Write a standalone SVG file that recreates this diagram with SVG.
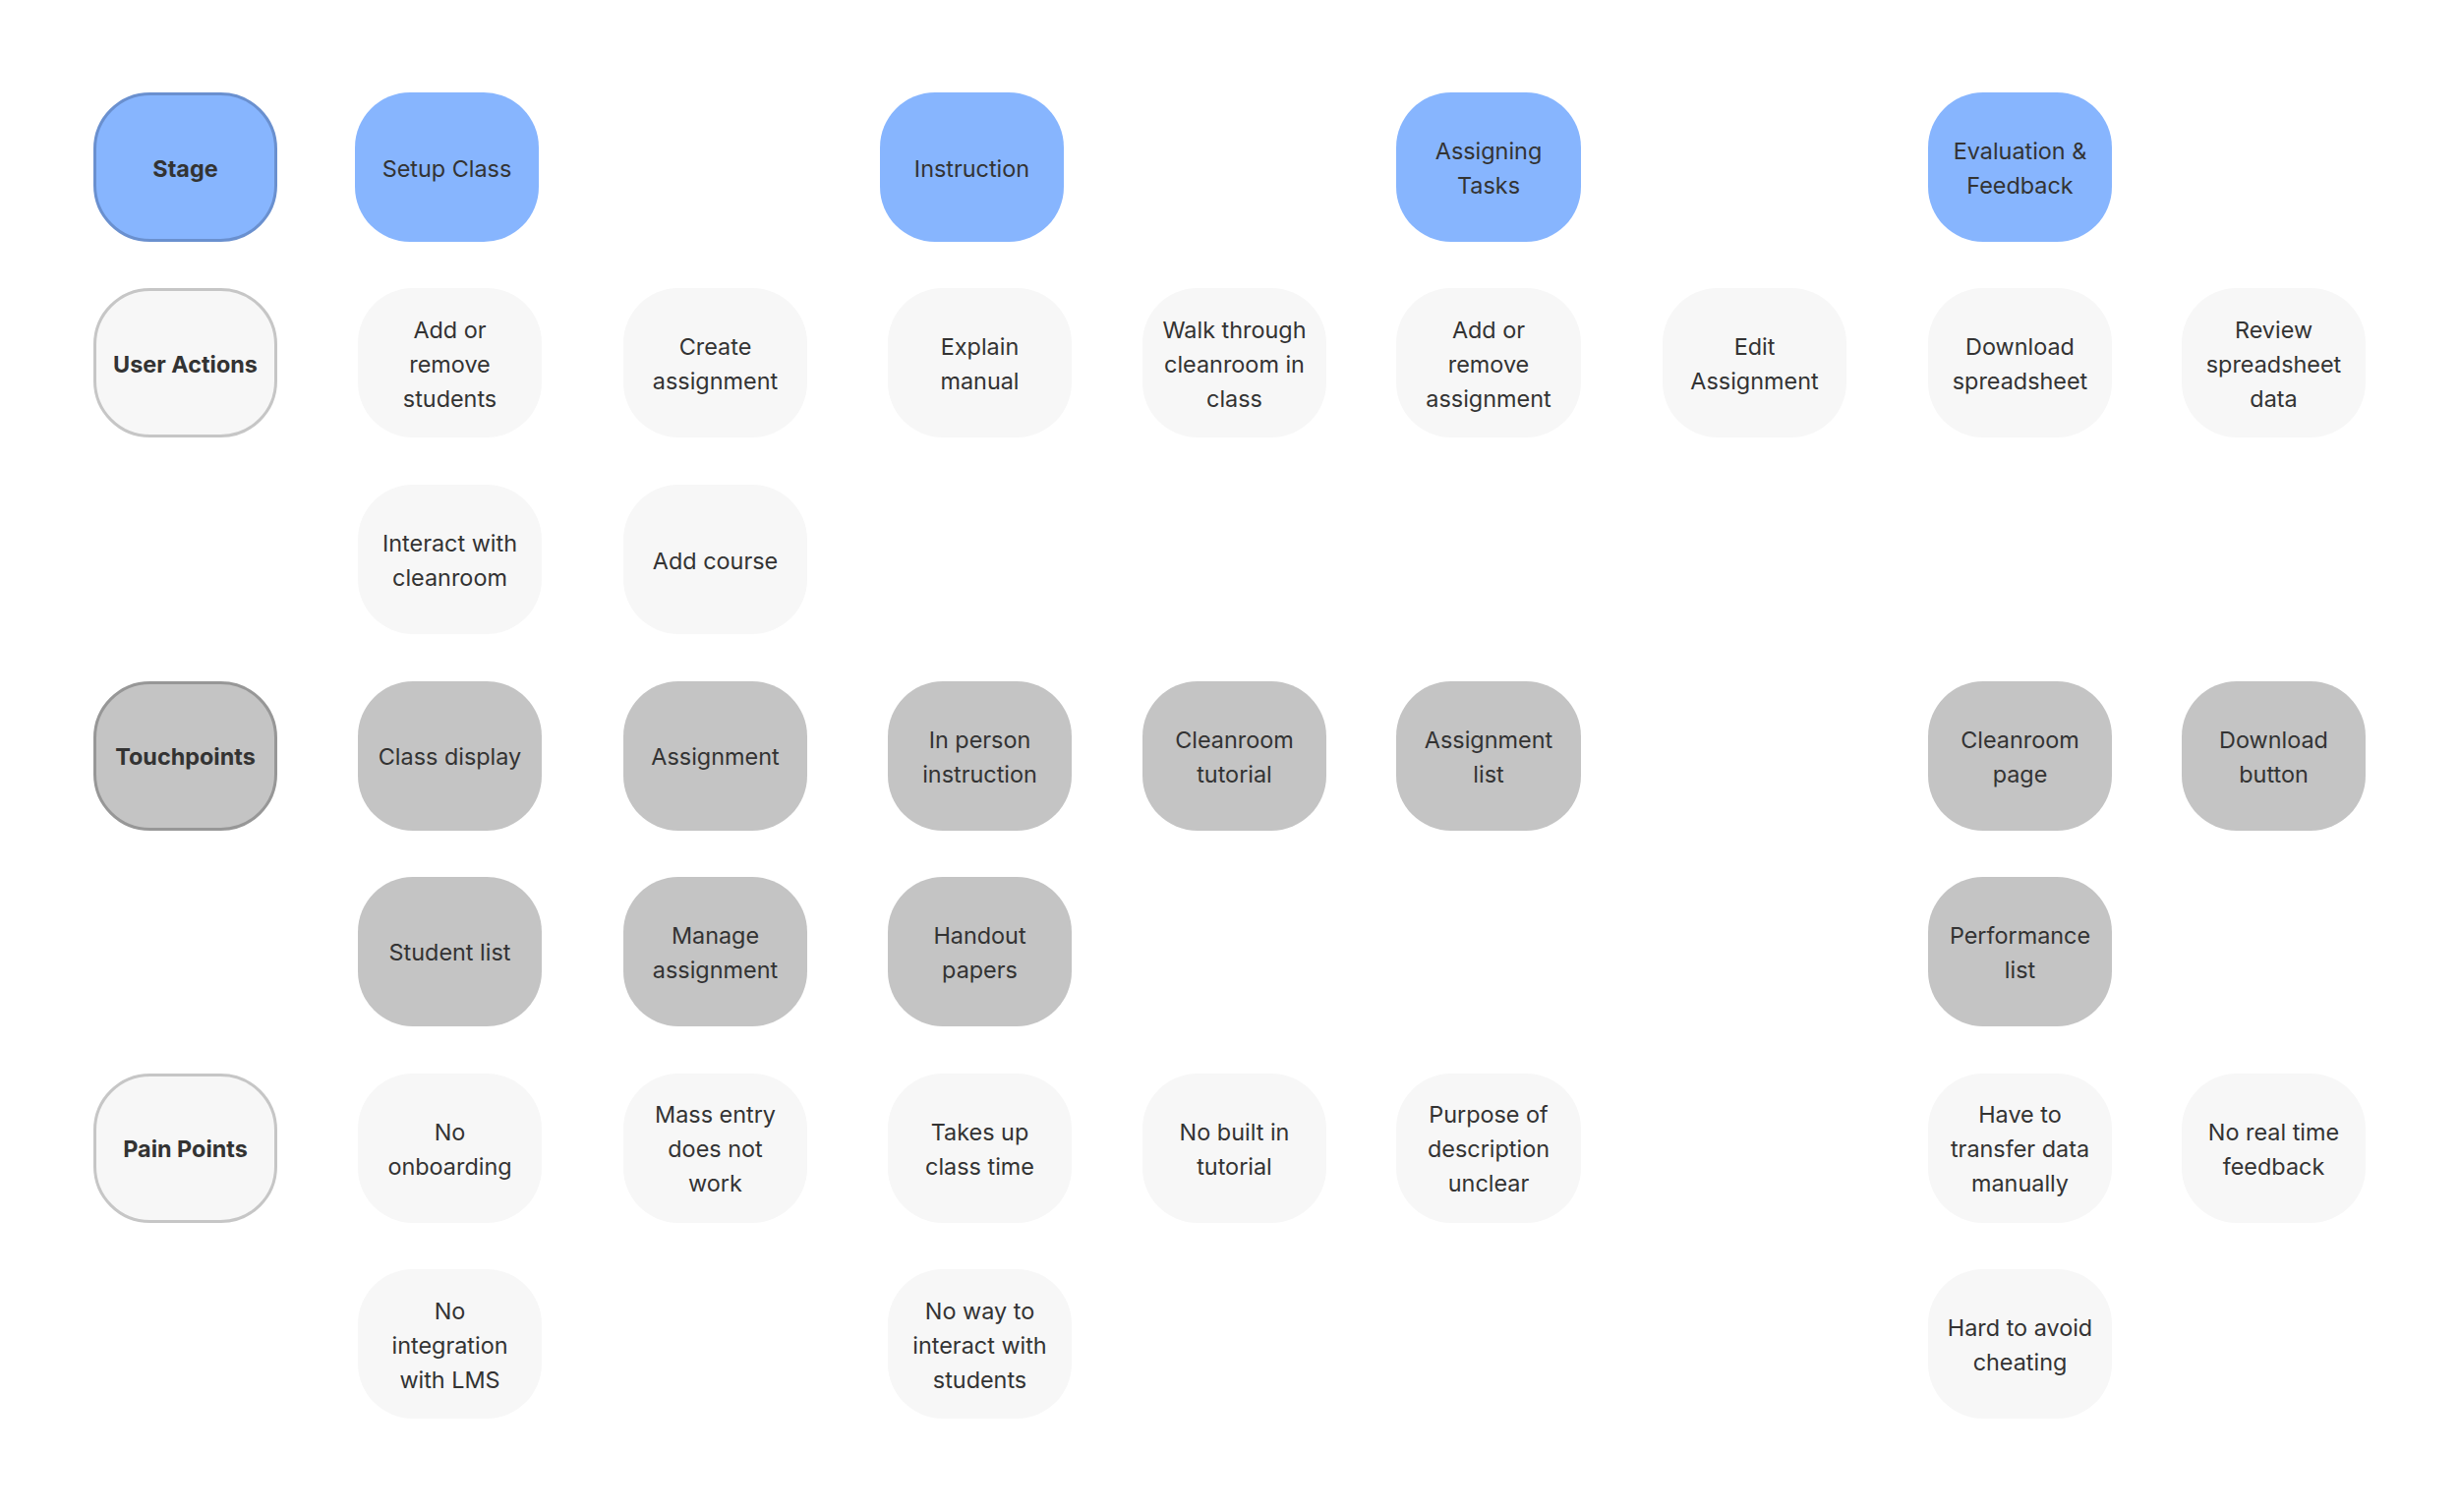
<svg xmlns="http://www.w3.org/2000/svg" width="2500" height="1538" viewBox="0 0 2500 1538">
<style>
rect{rx:56px;ry:56px}
.stg{fill:#87b5fe}
.ua{fill:#f7f7f7}
.tp{fill:#c4c4c4}
.hs{stroke:#6a90cf;stroke-width:3}
.hu{stroke:#c6c6c6;stroke-width:3}
.ht{stroke:#979797;stroke-width:3}
text{font-family:Inter,"Noto Sans","Liberation Sans",sans-serif;font-size:23.4px;fill:#333333;text-anchor:middle}
.b{font-weight:700}
</style>
<rect x="0" y="0" width="2500" height="1538" fill="#ffffff" style="rx:0;ry:0"/>
<g id="connectors"/>
<!-- Row 0 -->
<g id="stage-label"><rect class="stg hs" x="96.5" y="95.5" width="184" height="149"/><text class="b" x="188.5" y="179.5">Stage</text></g>
<g id="setup-class"><rect class="stg" x="361" y="94" width="187" height="152"/><text x="454.5" y="179.5">Setup Class</text></g>
<g id="instruction"><rect class="stg" x="895" y="94" width="187" height="152"/><text x="988.5" y="179.5">Instruction</text></g>
<g id="assigning-tasks"><rect class="stg" x="1420" y="94" width="188" height="152"/><text x="1514" y="162"><tspan x="1514">Assigning</tspan><tspan x="1514" dy="35">Tasks</tspan></text></g>
<g id="evaluation-feedback"><rect class="stg" x="1961" y="94" width="187" height="152"/><text x="2054.5" y="162"><tspan x="2054.5">Evaluation &amp;</tspan><tspan x="2054.5" dy="35">Feedback</tspan></text></g>
<!-- Row 1 -->
<g id="user-actions-label"><rect class="ua hu" x="96.5" y="294.5" width="184" height="149"/><text class="b" x="188.5" y="378.5">User Actions</text></g>
<g id="ua-add-remove-students"><rect class="ua" x="364" y="293" width="187" height="152"/><text x="457.5" y="343.5"><tspan x="457.5">Add or</tspan><tspan x="457.5" dy="35">remove</tspan><tspan x="457.5" dy="35">students</tspan></text></g>
<g id="ua-create-assignment"><rect class="ua" x="634" y="293" width="187" height="152"/><text x="727.5" y="361"><tspan x="727.5">Create</tspan><tspan x="727.5" dy="35">assignment</tspan></text></g>
<g id="ua-explain-manual"><rect class="ua" x="903" y="293" width="187" height="152"/><text x="996.5" y="361"><tspan x="996.5">Explain</tspan><tspan x="996.5" dy="35">manual</tspan></text></g>
<g id="ua-walk-through"><rect class="ua" x="1162" y="293" width="187" height="152"/><text x="1255.5" y="343.5"><tspan x="1255.5">Walk through</tspan><tspan x="1255.5" dy="35">cleanroom in</tspan><tspan x="1255.5" dy="35">class</tspan></text></g>
<g id="ua-add-remove-assignment"><rect class="ua" x="1420" y="293" width="188" height="152"/><text x="1514" y="343.5"><tspan x="1514">Add or</tspan><tspan x="1514" dy="35">remove</tspan><tspan x="1514" dy="35">assignment</tspan></text></g>
<g id="ua-edit-assignment"><rect class="ua" x="1691" y="293" width="187" height="152"/><text x="1784.5" y="361"><tspan x="1784.5">Edit</tspan><tspan x="1784.5" dy="35">Assignment</tspan></text></g>
<g id="ua-download-spreadsheet"><rect class="ua" x="1961" y="293" width="187" height="152"/><text x="2054.5" y="361"><tspan x="2054.5">Download</tspan><tspan x="2054.5" dy="35">spreadsheet</tspan></text></g>
<g id="ua-review-spreadsheet"><rect class="ua" x="2219" y="293" width="187" height="152"/><text x="2312.5" y="343.5"><tspan x="2312.5">Review</tspan><tspan x="2312.5" dy="35">spreadsheet</tspan><tspan x="2312.5" dy="35">data</tspan></text></g>
<!-- Row 2 -->
<g id="ua-interact-cleanroom"><rect class="ua" x="364" y="493" width="187" height="152"/><text x="457.5" y="561"><tspan x="457.5">Interact with</tspan><tspan x="457.5" dy="35">cleanroom</tspan></text></g>
<g id="ua-add-course"><rect class="ua" x="634" y="493" width="187" height="152"/><text x="727.5" y="578.5">Add course</text></g>
<!-- Row 3 -->
<g id="touchpoints-label"><rect class="tp ht" x="96.5" y="694.5" width="184" height="149"/><text class="b" x="188.5" y="778">Touchpoints</text></g>
<g id="tp-class-display"><rect class="tp" x="364" y="693" width="187" height="152"/><text x="457.5" y="778">Class display</text></g>
<g id="tp-assignment"><rect class="tp" x="634" y="693" width="187" height="152"/><text x="727.5" y="778">Assignment</text></g>
<g id="tp-in-person"><rect class="tp" x="903" y="693" width="187" height="152"/><text x="996.5" y="760.5"><tspan x="996.5">In person</tspan><tspan x="996.5" dy="35">instruction</tspan></text></g>
<g id="tp-cleanroom-tutorial"><rect class="tp" x="1162" y="693" width="187" height="152"/><text x="1255.5" y="760.5"><tspan x="1255.5">Cleanroom</tspan><tspan x="1255.5" dy="35">tutorial</tspan></text></g>
<g id="tp-assignment-list"><rect class="tp" x="1420" y="693" width="188" height="152"/><text x="1514" y="760.5"><tspan x="1514">Assignment</tspan><tspan x="1514" dy="35">list</tspan></text></g>
<g id="tp-cleanroom-page"><rect class="tp" x="1961" y="693" width="187" height="152"/><text x="2054.5" y="760.5"><tspan x="2054.5">Cleanroom</tspan><tspan x="2054.5" dy="35">page</tspan></text></g>
<g id="tp-download-button"><rect class="tp" x="2219" y="693" width="187" height="152"/><text x="2312.5" y="760.5"><tspan x="2312.5">Download</tspan><tspan x="2312.5" dy="35">button</tspan></text></g>
<!-- Row 4 -->
<g id="tp-student-list"><rect class="tp" x="364" y="892" width="187" height="152"/><text x="457.5" y="977">Student list</text></g>
<g id="tp-manage-assignment"><rect class="tp" x="634" y="892" width="187" height="152"/><text x="727.5" y="959.5"><tspan x="727.5">Manage</tspan><tspan x="727.5" dy="35">assignment</tspan></text></g>
<g id="tp-handout-papers"><rect class="tp" x="903" y="892" width="187" height="152"/><text x="996.5" y="959.5"><tspan x="996.5">Handout</tspan><tspan x="996.5" dy="35">papers</tspan></text></g>
<g id="tp-performance-list"><rect class="tp" x="1961" y="892" width="187" height="152"/><text x="2054.5" y="959.5"><tspan x="2054.5">Performance</tspan><tspan x="2054.5" dy="35">list</tspan></text></g>
<!-- Row 5 -->
<g id="pain-points-label"><rect class="ua hu" x="96.5" y="1093.5" width="184" height="149"/><text class="b" x="188.5" y="1177">Pain Points</text></g>
<g id="pp-no-onboarding"><rect class="ua" x="364" y="1092" width="187" height="152"/><text x="457.5" y="1159.5"><tspan x="457.5">No</tspan><tspan x="457.5" dy="35">onboarding</tspan></text></g>
<g id="pp-mass-entry"><rect class="ua" x="634" y="1092" width="187" height="152"/><text x="727.5" y="1142"><tspan x="727.5">Mass entry</tspan><tspan x="727.5" dy="35">does not</tspan><tspan x="727.5" dy="35">work</tspan></text></g>
<g id="pp-takes-class-time"><rect class="ua" x="903" y="1092" width="187" height="152"/><text x="996.5" y="1159.5"><tspan x="996.5">Takes up</tspan><tspan x="996.5" dy="35">class time</tspan></text></g>
<g id="pp-no-tutorial"><rect class="ua" x="1162" y="1092" width="187" height="152"/><text x="1255.5" y="1159.5"><tspan x="1255.5">No built in</tspan><tspan x="1255.5" dy="35">tutorial</tspan></text></g>
<g id="pp-purpose-unclear"><rect class="ua" x="1420" y="1092" width="188" height="152"/><text x="1514" y="1142"><tspan x="1514">Purpose of</tspan><tspan x="1514" dy="35">description</tspan><tspan x="1514" dy="35">unclear</tspan></text></g>
<g id="pp-transfer-manually"><rect class="ua" x="1961" y="1092" width="187" height="152"/><text x="2054.5" y="1142"><tspan x="2054.5">Have to</tspan><tspan x="2054.5" dy="35">transfer data</tspan><tspan x="2054.5" dy="35">manually</tspan></text></g>
<g id="pp-no-feedback"><rect class="ua" x="2219" y="1092" width="187" height="152"/><text x="2312.5" y="1159.5"><tspan x="2312.5">No real time</tspan><tspan x="2312.5" dy="35">feedback</tspan></text></g>
<!-- Row 6 -->
<g id="pp-no-lms"><rect class="ua" x="364" y="1291" width="187" height="152"/><text x="457.5" y="1341.5"><tspan x="457.5">No</tspan><tspan x="457.5" dy="35">integration</tspan><tspan x="457.5" dy="35">with LMS</tspan></text></g>
<g id="pp-no-interaction"><rect class="ua" x="903" y="1291" width="187" height="152"/><text x="996.5" y="1341.5"><tspan x="996.5">No way to</tspan><tspan x="996.5" dy="35">interact with</tspan><tspan x="996.5" dy="35">students</tspan></text></g>
<g id="pp-cheating"><rect class="ua" x="1961" y="1291" width="187" height="152"/><text x="2054.5" y="1359"><tspan x="2054.5">Hard to avoid</tspan><tspan x="2054.5" dy="35">cheating</tspan></text></g>
</svg>
